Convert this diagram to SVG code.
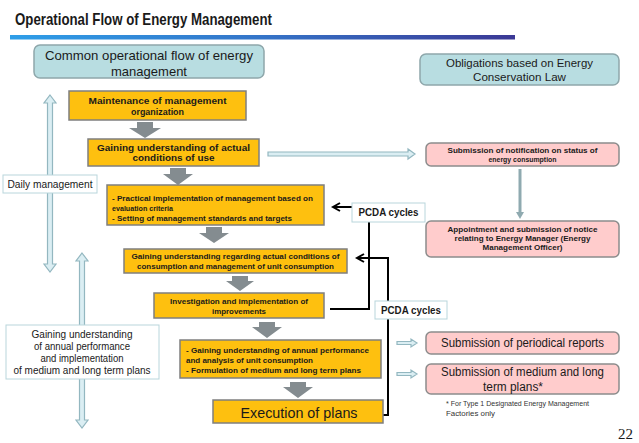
<svg xmlns="http://www.w3.org/2000/svg" width="639" height="443" viewBox="0 0 639 443">
<defs>
<linearGradient id="bar" x1="0" y1="0" x2="1" y2="0">
<stop offset="0" stop-color="#2e9ee8"/>
<stop offset="0.5" stop-color="#3474c8"/>
<stop offset="1" stop-color="#3b3895"/>
</linearGradient>
<style>
.t{font-family:"Liberation Sans",Arial,sans-serif;fill:#1a1a1a}
.b{font-weight:bold}
.fn{fill:#333333}
.teal{fill:#b8dde1;stroke:#8ea7ab;stroke-width:1.5}
.org{fill:#fec00f;stroke:#7f7f7f;stroke-width:1.5}
.pink{fill:#ffcccc;stroke:#8c8c8c;stroke-width:1.5}
.lbl{fill:#ffffff;stroke:#b9d6dc;stroke-width:1}
.gr{fill:#848c90}
.la{fill:#dbeef3;stroke:#93b7c0;stroke-width:1.2}
.blk{fill:none;stroke:#000;stroke-width:2}
</style>
</defs>
<rect width="639" height="443" fill="#ffffff"/>
<text class="t b" x="15" y="25" font-size="17" textLength="257" lengthAdjust="spacingAndGlyphs">Operational Flow of Energy Management</text>
<rect x="10" y="35" width="505" height="4.5" fill="url(#bar)"/>

<g id="connectors">
<polygon class="gr" points="137,122 153,122 153,128 161,128 145,138 129,128 137,128"/>
<polygon class="gr" points="170,168 186,168 186,174 193,174 178,185 163,174 170,174"/>
<polygon class="gr" points="206,227 222,227 222,233 229,233 214,243 199,233 206,233"/>
<polygon class="gr" points="232,276 248,276 248,281 254,281 240,291 226,281 232,281"/>
<polygon class="gr" points="259,322 275,322 275,327 282,327 267,338 252,327 259,327"/>
<polygon class="gr" points="290,382 306,382 306,387 313,387 298,398 283,387 290,387"/>
<polygon class="la" points="50,95 56,103 52.5,103 52.5,264 56,264 50,272 44,264 47.5,264 47.5,103 44,103"/>
<polygon class="la" points="82,253 88,261 84.5,261 84.5,420 88,420 82,428 76,420 79.5,420 79.5,261 76,261"/>
<polygon class="la" points="268,152 408,152 408,149 415,154 408,159 408,156 268,156"/>
<polygon class="la" points="397,341.5 411,341.5 411,339 417,343 411,347 411,344.5 397,344.5"/>
<polygon class="la" points="397,372.5 411,372.5 411,370 417,374 411,378 411,375.5 397,375.5"/>
<line x1="520" y1="169" x2="520" y2="213" stroke="#8faab0" stroke-width="3"/>
<polygon points="516,212 524,212 520,219" fill="#8faab0"/>
<polyline class="blk" points="330,309 369,309 369,222"/>
<line class="blk" x1="352" y1="207" x2="334" y2="207"/>
<polyline class="blk" points="340,203 333,207 340,211"/>
<polyline class="blk" points="383,415 388,415 388,258 358,258"/>
<polyline class="blk" points="364,254 357,258 364,262"/>
</g>

<g id="common">
<rect class="teal" x="34" y="45" width="230" height="33" rx="6"/>
<text class="t" x="149" y="60" font-size="13" text-anchor="middle" textLength="208" lengthAdjust="spacingAndGlyphs">Common operational flow of energy</text>
<text class="t" x="149" y="76" font-size="13" text-anchor="middle" textLength="76" lengthAdjust="spacingAndGlyphs">management</text>
</g>
<g id="obligations">
<rect class="teal" x="420" y="54" width="199" height="31" rx="6"/>
<text class="t" x="519.5" y="67" font-size="11" text-anchor="middle" textLength="147" lengthAdjust="spacingAndGlyphs">Obligations based on Energy</text>
<text class="t" x="519.5" y="81" font-size="11" text-anchor="middle" textLength="93" lengthAdjust="spacingAndGlyphs">Conservation Law</text>
</g>
<g id="maintenance">
<rect class="org" x="69" y="91" width="177" height="29"/>
<text class="t b" x="157.5" y="104" font-size="9" text-anchor="middle" textLength="138" lengthAdjust="spacingAndGlyphs">Maintenance of management</text>
<text class="t b" x="157.5" y="115" font-size="9" text-anchor="middle" textLength="53" lengthAdjust="spacingAndGlyphs">organization</text>
</g>
<g id="actual">
<rect class="org" x="88" y="139" width="171" height="27"/>
<text class="t b" x="173.5" y="151" font-size="9" text-anchor="middle" textLength="153" lengthAdjust="spacingAndGlyphs">Gaining understanding of actual</text>
<text class="t b" x="173.5" y="161" font-size="9" text-anchor="middle" textLength="82" lengthAdjust="spacingAndGlyphs">conditions of use</text>
</g>
<g id="practical">
<rect class="org" x="107" y="185" width="217" height="40"/>
<text class="t b" x="112" y="201" font-size="8" textLength="201" lengthAdjust="spacingAndGlyphs">- Practical implementation of management based on</text>
<text class="t b" x="112" y="211" font-size="8" textLength="61" lengthAdjust="spacingAndGlyphs">evaluation criteria</text>
<text class="t b" x="112" y="221" font-size="8" textLength="180" lengthAdjust="spacingAndGlyphs">- Setting of management standards and targets</text>
</g>
<g id="regarding">
<rect class="org" x="124" y="249" width="223" height="24"/>
<text class="t b" x="235.5" y="259" font-size="8" text-anchor="middle" textLength="208" lengthAdjust="spacingAndGlyphs">Gaining understanding regarding actual conditions of</text>
<text class="t b" x="235.5" y="269" font-size="8" text-anchor="middle" textLength="197" lengthAdjust="spacingAndGlyphs">consumption and management of unit consumption</text>
</g>
<g id="investigation">
<rect class="org" x="154" y="293" width="170" height="25"/>
<text class="t b" x="239" y="304" font-size="8" text-anchor="middle" textLength="138" lengthAdjust="spacingAndGlyphs">Investigation and implementation of</text>
<text class="t b" x="239" y="314" font-size="8" text-anchor="middle" textLength="54" lengthAdjust="spacingAndGlyphs">improvements</text>
</g>
<g id="annual">
<rect class="org" x="180" y="340" width="201" height="38"/>
<text class="t b" x="186" y="353" font-size="8" textLength="183" lengthAdjust="spacingAndGlyphs">- Gaining understanding of annual performance</text>
<text class="t b" x="186" y="363" font-size="8" textLength="127" lengthAdjust="spacingAndGlyphs">and analysis of unit consumption</text>
<text class="t b" x="186" y="373" font-size="8" textLength="175" lengthAdjust="spacingAndGlyphs">- Formulation of medium and long term plans</text>
</g>
<g id="execution">
<rect class="org" x="213" y="400" width="170" height="23"/>
<text class="t" x="299" y="418" font-size="15" text-anchor="middle" textLength="117" lengthAdjust="spacingAndGlyphs">Execution of plans</text>
</g>
<g id="notification">
<rect class="pink" x="426" y="143" width="193" height="23" rx="5"/>
<text class="t b" x="522.5" y="153" font-size="7.5" text-anchor="middle" textLength="150" lengthAdjust="spacingAndGlyphs">Submission of notification on status of</text>
<text class="t b" x="522.5" y="162" font-size="7.5" text-anchor="middle" textLength="68" lengthAdjust="spacingAndGlyphs">energy consumption</text>
</g>
<g id="appointment">
<rect class="pink" x="426" y="221" width="193" height="36" rx="5"/>
<text class="t b" x="522.5" y="232" font-size="7.5" text-anchor="middle" textLength="150" lengthAdjust="spacingAndGlyphs">Appointment and submission of notice</text>
<text class="t b" x="522.5" y="241" font-size="7.5" text-anchor="middle" textLength="136" lengthAdjust="spacingAndGlyphs">relating to Energy Manager (Energy</text>
<text class="t b" x="522.5" y="250" font-size="7.5" text-anchor="middle" textLength="80" lengthAdjust="spacingAndGlyphs">Management Officer)</text>
</g>
<g id="periodical">
<rect class="pink" x="426" y="332" width="193" height="22" rx="5"/>
<text class="t" x="522.5" y="347" font-size="12" text-anchor="middle" textLength="163" lengthAdjust="spacingAndGlyphs">Submission of periodical reports</text>
</g>
<g id="medium">
<rect class="pink" x="426" y="364" width="193" height="30" rx="5"/>
<text class="t" x="522.5" y="376" font-size="12" text-anchor="middle" textLength="163" lengthAdjust="spacingAndGlyphs">Submission of medium and long</text>
<text class="t" x="513" y="391" font-size="12" text-anchor="middle" textLength="60" lengthAdjust="spacingAndGlyphs">term plans*</text>
</g>
<g id="footnote">
<text class="t fn" x="446" y="406" font-size="7.5" textLength="143" lengthAdjust="spacingAndGlyphs">* For Type 1 Designated Energy Management</text>
<text class="t fn" x="446" y="416" font-size="7.5" textLength="49" lengthAdjust="spacingAndGlyphs">Factories only</text>
</g>
<g id="daily">
<rect class="lbl" x="3" y="175" width="94" height="18"/>
<text class="t" x="50" y="188" font-size="10" text-anchor="middle" textLength="85" lengthAdjust="spacingAndGlyphs">Daily management</text>
</g>
<g id="annual-label">
<rect class="lbl" x="6" y="325" width="153" height="54"/>
<text class="t" x="82" y="338" font-size="10" text-anchor="middle" textLength="101" lengthAdjust="spacingAndGlyphs">Gaining understanding</text>
<text class="t" x="82" y="350" font-size="10" text-anchor="middle" textLength="96" lengthAdjust="spacingAndGlyphs">of annual performance</text>
<text class="t" x="82" y="362" font-size="10" text-anchor="middle" textLength="83" lengthAdjust="spacingAndGlyphs">and implementation</text>
<text class="t" x="82" y="374" font-size="10" text-anchor="middle" textLength="137" lengthAdjust="spacingAndGlyphs">of medium and long term plans</text>
</g>
<g id="pcda1">
<rect class="lbl" x="352" y="203" width="73" height="19"/>
<text class="t b" x="388.5" y="216" font-size="10" text-anchor="middle" textLength="60" lengthAdjust="spacingAndGlyphs">PCDA cycles</text>
</g>
<g id="pcda2">
<rect class="lbl" x="375" y="301" width="72" height="18"/>
<text class="t b" x="411" y="314" font-size="10" text-anchor="middle" textLength="60" lengthAdjust="spacingAndGlyphs">PCDA cycles</text>
</g>
<text x="633" y="439" font-family="'Liberation Serif',serif" font-size="15" text-anchor="end" fill="#1a1a1a">22</text>
</svg>
